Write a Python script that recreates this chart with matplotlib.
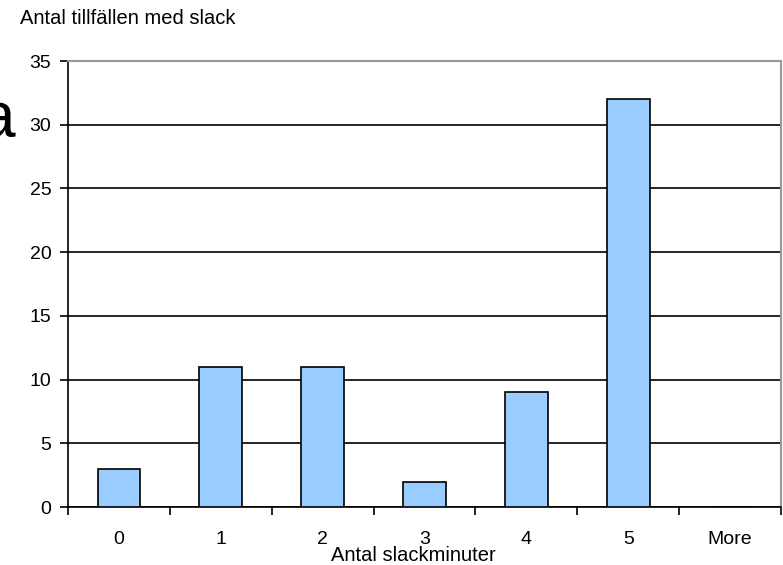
import matplotlib
matplotlib.use("Agg")
import matplotlib.pyplot as plt
import numpy as np

categories = ["0", "1", "2", "3", "4", "5", "More"]
counts = [3, 11, 11, 2, 9, 32, 0]
yticks = [0, 5, 10, 15, 20, 25, 30, 35]

plt.rcParams['font.family'] = ['Liberation Sans', 'DejaVu Sans']

W, H = 783, 565
fig = plt.figure(figsize=(W/100, H/100), dpi=100)
ax = fig.add_axes([68/W, (H-507)/H, (781-68)/W, (507-61)/H])

x = np.arange(len(categories))
ax.bar(x, counts, width=0.42, color="#99CCFF", edgecolor="black", linewidth=1.2, zorder=3)
ax.set_xlim(-0.5, len(categories)-0.5)
ax.set_ylim(0, 35)
ax.set_yticks(yticks)
ax.set_yticklabels([str(v) for v in yticks], fontsize=14)
ax.yaxis.grid(True, color="black", linewidth=1.2, zorder=0)
ax.set_axisbelow(True)

# x ticks between categories, labels at centers
ax.set_xticks(np.arange(-0.5, len(categories), 1.0))
ax.set_xticklabels([])
ax.set_xticks(x, minor=True)
ax.set_xticklabels(categories, minor=True, fontsize=14)
ax.tick_params(axis='x', which='major', length=6, width=1.2, direction='out')
ax.tick_params(axis='x', which='minor', length=0, pad=17)
ax.tick_params(axis='y', length=6, width=1.2, direction='out', pad=6)

for s in ['left', 'bottom']:
    ax.spines[s].set_color('black')
    ax.spines[s].set_linewidth(1.2)
for s in ['top', 'right']:
    ax.spines[s].set_color('#999999')
    ax.spines[s].set_linewidth(1.5)

fig.text(20/W, 1-19/H, "Antal tillfällen med slack", fontsize=14.5, ha='left', va='center')
fig.text(413/W, 1-561/H, "Antal slackminuter", fontsize=14.5, ha='center', va='baseline')
fig.text(15/W, 1-138/H, "a", fontsize=46, ha='right', va='baseline')

fig.savefig("out.png", dpi=100)
